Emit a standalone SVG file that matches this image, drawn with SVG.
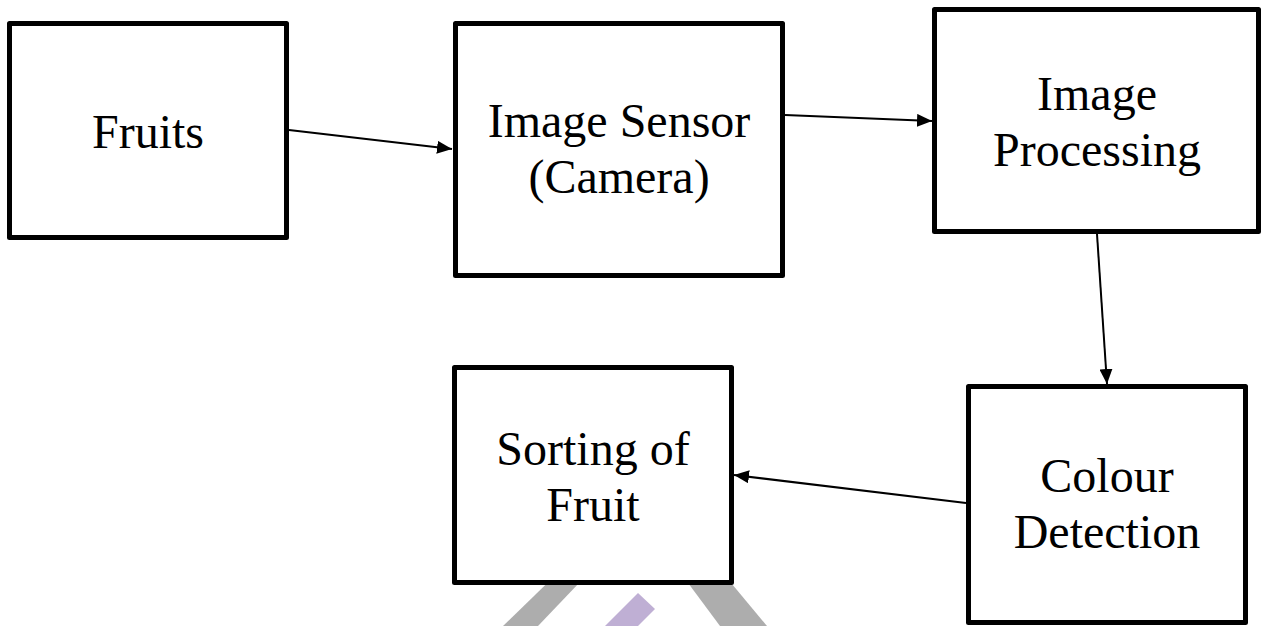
<svg xmlns="http://www.w3.org/2000/svg" width="1263" height="626" viewBox="0 0 1263 626">
  <style>
    .box { fill: #ffffff; stroke: #000000; stroke-width: 5; stroke-linejoin: round; }
    .lbl { font-family: "Liberation Serif", "Times New Roman", serif; font-size: 48px; fill: #000000; text-anchor: middle; }
    .conn { stroke: #000000; stroke-width: 2; fill: none; marker-end: url(#arrow); }
    .wm-gray { fill: #adadad; }
    .wm-purple { fill: #bfafd4; }
  </style>
  <defs>
    <marker id="arrow" markerUnits="userSpaceOnUse" markerWidth="15" markerHeight="13" refX="15" refY="6.5" orient="auto">
      <path d="M0,0 L15,6.5 L0,13 Z" fill="#000000"/>
    </marker>
  </defs>
  <rect x="0" y="0" width="1263" height="626" fill="#ffffff"/>

  <g id="watermark">
    <polygon class="wm-gray" points="571,560 601,560 538,626 503,626"/>
    <polygon class="wm-gray" points="671,560 712,560 767,626 720,626"/>
    <polygon class="wm-purple" points="638,593 655,609 638,626 605,626"/>
  </g>

  <g id="connectors">
    <line class="conn" x1="289" y1="130" x2="452" y2="149"/>
    <line class="conn" x1="785" y1="115" x2="932" y2="121"/>
    <line class="conn" x1="1097" y1="234" x2="1107" y2="384"/>
    <line class="conn" x1="966" y1="503" x2="734" y2="475"/>
  </g>

  <g id="fruits">
    <rect class="box" x="9.5" y="23.5" width="277" height="214"/>
    <text class="lbl" x="148" y="148">Fruits</text>
  </g>

  <g id="image-sensor">
    <rect class="box" x="455.5" y="23.5" width="327" height="252"/>
    <text class="lbl" x="619" y="137">Image Sensor</text>
    <text class="lbl" x="619" y="193">(Camera)</text>
  </g>

  <g id="image-processing">
    <rect class="box" x="934.5" y="9.5" width="324" height="222"/>
    <text class="lbl" x="1097" y="110">Image</text>
    <text class="lbl" x="1097" y="166">Processing</text>
  </g>

  <g id="colour-detection">
    <rect class="box" x="968.5" y="386.5" width="277" height="236"/>
    <text class="lbl" x="1107" y="492">Colour</text>
    <text class="lbl" x="1107" y="548">Detection</text>
  </g>

  <g id="sorting">
    <rect class="box" x="454.5" y="367.5" width="277" height="215"/>
    <text class="lbl" x="593" y="465">Sorting of</text>
    <text class="lbl" x="593" y="521">Fruit</text>
  </g>
</svg>
